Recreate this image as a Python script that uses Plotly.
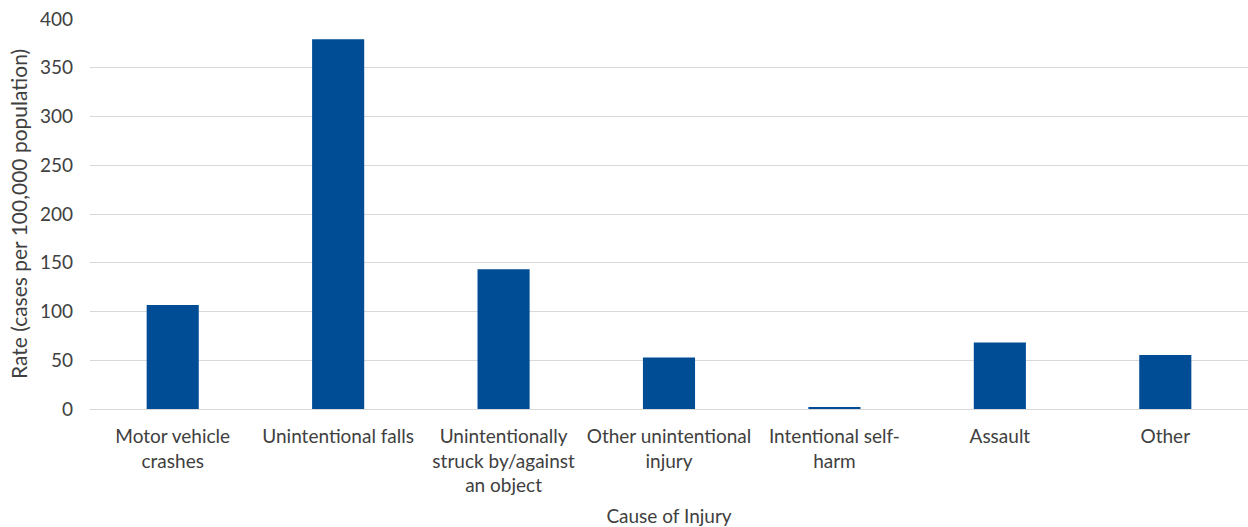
import plotly.graph_objects as go

categories = [
    "Motor vehicle<br>crashes",
    "Unintentional falls",
    "Unintentionally<br>struck by/against<br>an object",
    "Other unintentional<br>injury",
    "Intentional self-<br>harm",
    "Assault",
    "Other",
]
rates = [106.6, 379.2, 143.4, 52.9, 2.0, 68.2, 55.3]
y_ticks = [0, 50, 100, 150, 200, 250, 300, 350, 400]

font_family = "Lato, 'Open Sans', sans-serif"
txt = "#404040"

fig = go.Figure(go.Bar(
    x=categories,
    y=rates,
    marker=dict(color="#004d96", line=dict(width=0)),
    width=0.315,
))

fig.update_layout(
    width=1248, height=527,
    margin=dict(l=90, r=0, t=19, b=118),
    paper_bgcolor="white", plot_bgcolor="white",
    font=dict(family=font_family, size=19, color=txt),
    showlegend=False,
    xaxis=dict(
        title=dict(text="Cause of Injury", font=dict(size=19, color=txt), standoff=17),
        tickfont=dict(size=19, color=txt),
        showgrid=False, zeroline=False, showline=False, ticks="",
        ticklabelstandoff=14,
    ),
    yaxis=dict(
        title=dict(text="Rate (cases per 100,000 population)", font=dict(size=21, color=txt), standoff=6),
        range=[0, 400],
        tickvals=y_ticks,
        ticktext=[str(v) for v in y_ticks],
        tickfont=dict(size=19, color=txt),
        showgrid=True, gridcolor="#d9d9d9", gridwidth=1,
        zeroline=True, zerolinecolor="#d9d9d9", zerolinewidth=1,
        showline=False, ticks="", ticklabelstandoff=16,
    ),
)

fig.write_html("out.html")
